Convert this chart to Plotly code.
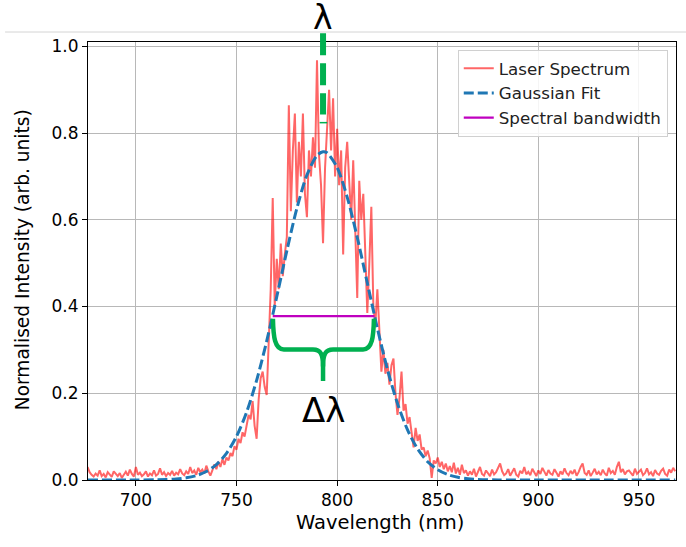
import plotly.graph_objects as go

# ---------------- data ----------------
wavelength_nm = list(range(676, 969))  # sampling grid, 1 nm

laser_intensity = [
    0.030, 0.018, 0.012, 0.008, 0.015, 0.010, 0.022, 0.009, 0.014, 0.006,   # 676-685
    0.018, 0.011, 0.007, 0.020, 0.013, 0.009, 0.016, 0.005, 0.012, 0.019,   # 686-695
    0.010, 0.024, 0.014, 0.008, 0.030, 0.012, 0.017, 0.009, 0.013, 0.020,   # 696-705
    0.008, 0.015, 0.011, 0.022, 0.010, 0.014, 0.027, 0.012, 0.018, 0.009,   # 706-715
    0.016, 0.012, 0.021, 0.010, 0.017, 0.013, 0.025, 0.015, 0.011, 0.020,   # 716-725
    0.014, 0.030, 0.016, 0.022, 0.012, 0.028, 0.018, 0.024, 0.015, 0.033,   # 726-735
    0.020, 0.010, 0.022, 0.036, 0.025, 0.042, 0.030, 0.048, 0.035, 0.052,   # 736-745
    0.045, 0.062, 0.055, 0.078, 0.070, 0.095, 0.085, 0.110, 0.100, 0.128,   # 746-755
    0.150, 0.140, 0.182, 0.125, 0.095, 0.185, 0.235, 0.250, 0.215, 0.196,   # 756-765
    0.300, 0.440, 0.650, 0.400, 0.510, 0.440, 0.545, 0.470, 0.520, 0.560,   # 766-775
    0.864, 0.620, 0.760, 0.845, 0.640, 0.780, 0.700, 0.845, 0.660, 0.606,   # 776-785
    0.760, 0.700, 0.790, 0.720, 0.968, 0.750, 0.680, 0.546, 0.720, 0.800,   # 786-795
    0.900, 0.760, 0.880, 0.700, 0.810, 0.680, 0.760, 0.520, 0.720, 0.780,   # 796-805
    0.700, 0.600, 0.737, 0.560, 0.420, 0.690, 0.600, 0.660, 0.520, 0.385,   # 806-815
    0.500, 0.630, 0.400, 0.360, 0.440, 0.330, 0.250, 0.300, 0.245, 0.270,   # 816-825
    0.220, 0.265, 0.280, 0.200, 0.150, 0.190, 0.250, 0.160, 0.175, 0.130,   # 826-835
    0.145, 0.110, 0.075, 0.120, 0.090, 0.105, 0.070, 0.075, 0.055, 0.068,   # 836-845
    0.050, 0.005, 0.045, 0.038, 0.052, 0.030, 0.042, 0.025, 0.038, 0.020,   # 846-855
    0.032, 0.018, 0.040, 0.015, 0.028, 0.012, 0.035, 0.016, 0.022, 0.010,   # 856-865
    0.020, 0.012, 0.026, 0.008, 0.018, 0.030, 0.014, 0.010, 0.022, 0.016,   # 866-875
    0.009, 0.024, 0.013, 0.018, 0.028, 0.038, 0.020, 0.011, 0.015, 0.025,   # 876-885
    0.010, 0.017, 0.027, 0.012, 0.008, 0.021, 0.015, 0.030, 0.013, 0.019,   # 886-895
    0.011, 0.026, 0.016, 0.009, 0.022, 0.014, 0.028, 0.018, 0.010, 0.023,   # 896-905
    0.015, 0.012, 0.025, 0.017, 0.008, 0.020, 0.013, 0.027, 0.016, 0.011,   # 906-915
    0.021, 0.014, 0.024, 0.010, 0.018, 0.030, 0.038, 0.016, 0.012, 0.022,   # 916-925
    0.009, 0.017, 0.026, 0.013, 0.019, 0.011, 0.024, 0.015, 0.010, 0.028,   # 926-935
    0.016, 0.021, 0.012, 0.030, 0.042, 0.018, 0.025, 0.013, 0.020, 0.022,   # 936-945
    0.017, 0.010, 0.026, 0.014, 0.019, 0.024, 0.011, 0.016, 0.027, 0.013,   # 946-955
    0.018, 0.009, 0.023, 0.015, 0.012, 0.021, 0.026, 0.014, 0.010, 0.024,   # 956-965
    0.017, 0.028, 0.020,                                                    # 966-968
]

fit_wavelength_nm = [676, 700, 710, 715, 720, 725, 730, 735, 740, 745, 750, 755,
                     760, 765, 770, 775, 780, 785, 790, 793, 795, 800, 805, 810,
                     815, 820, 825, 830, 835, 840, 845, 850, 855, 860, 865, 870,
                     880, 900, 968]
fit_intensity = [0.0, 0.0, 0.0004, 0.0010, 0.0023, 0.0050, 0.0101, 0.0195, 0.0355,
                 0.0615, 0.1006, 0.1562, 0.2298, 0.3201, 0.4226, 0.5285, 0.6264,
                 0.7034, 0.7484, 0.7570, 0.7545, 0.7207, 0.6523, 0.5594, 0.4544,
                 0.3499, 0.2552, 0.1764, 0.1155, 0.0717, 0.0421, 0.0235, 0.0124,
                 0.0062, 0.0029, 0.0013, 0.0002, 0.0, 0.0]

bandwidth_wavelength_nm = [768.0, 818.6]
bandwidth_intensity = [0.378, 0.378]

centre_wavelength_nm = 793.0
x_ticks = [700, 750, 800, 850, 900, 950]
y_ticks = [0.0, 0.2, 0.4, 0.6, 0.8, 1.0]

X_RANGE = [676.2, 968.4]
Y_MAX = 1.01

GREEN = "rgb(0,176,80)"
FONT = "DejaVu Sans"

fig = go.Figure()
fig.add_trace(go.Scatter(x=wavelength_nm, y=laser_intensity, mode="lines",
                         name="Laser Spectrum",
                         line=dict(color="rgba(255,0,0,0.6)", width=2)))
fig.add_trace(go.Scatter(x=fit_wavelength_nm, y=fit_intensity, mode="lines",
                         name="Gaussian Fit",
                         line=dict(color="#1f77b4", width=3, dash="10px,4px",
                                   shape="spline", smoothing=0.8)))
fig.add_trace(go.Scatter(x=bandwidth_wavelength_nm, y=bandwidth_intensity,
                         mode="lines", name="Spectral bandwidth",
                         line=dict(color="#bf00bf", width=2.2)))

def paper_y(v):
    return v / Y_MAX

shapes = [
    # thin grey separator line above the figure
    dict(type="line", xref="paper", yref="paper", x0=-0.141, x1=1.02,
         y0=1.0228, y1=1.0228, line=dict(color="#d4d4d4", width=1)),
    # dashed green centre wavelength marker
    dict(type="line", xref="x", yref="paper",
         x0=centre_wavelength_nm, x1=centre_wavelength_nm,
         y0=paper_y(1.03), y1=paper_y(0.843),
         line=dict(color=GREEN, width=6, dash="22px,8px")),
    dict(type="line", xref="x", yref="y", x0=791.3, x1=795.1, y0=0.824, y1=0.824,
         line=dict(color=GREEN, width=1.5)),
    # brace under the bandwidth line
    dict(type="path", xref="x", yref="y",
         path=("M 768.1,0.372 C 768.3,0.33 769.0,0.301 773.5,0.301 "
               "L 788.0,0.301 C 791.8,0.301 793.0,0.29 793.0,0.262 L 793.0,0.228"),
         line=dict(color=GREEN, width=4.5)),
    dict(type="path", xref="x", yref="y",
         path=("M 818.3,0.372 C 818.1,0.33 817.4,0.301 812.9,0.301 "
               "L 798.0,0.301 C 794.2,0.301 793.0,0.29 793.0,0.262"),
         line=dict(color=GREEN, width=4.5)),
]

annotations = [
    dict(x=centre_wavelength_nm, y=1.057, xref="x", yref="paper",
         text="λ", showarrow=False, font=dict(family=FONT, size=33, color="black"),
         xanchor="center", yanchor="middle"),
    dict(x=centre_wavelength_nm, y=0.161, xref="x", yref="y",
         text="Δλ", showarrow=False, font=dict(family=FONT, size=34, color="black"),
         xanchor="center", yanchor="middle"),
    # axis titles placed explicitly
    dict(x=0.497, y=-0.098, xref="paper", yref="paper", text="Wavelength (nm)",
         showarrow=False, font=dict(family=FONT, size=19.5, color="black"),
         xanchor="center", yanchor="middle"),
    dict(x=-0.112, y=0.502, xref="paper", yref="paper",
         text="Normalised Intensity (arb. units)", textangle=-90,
         showarrow=False, font=dict(family=FONT, size=18.6, color="black"),
         xanchor="center", yanchor="middle"),
]

fig.update_layout(
    width=686, height=547,
    margin=dict(l=88, r=10, t=42, b=67, autoexpand=False),
    paper_bgcolor="white", plot_bgcolor="white",
    font=dict(family=FONT, size=17, color="black"),
    shapes=shapes, annotations=annotations,
    showlegend=True,
    legend=dict(x=0.986, xanchor="right", y=0.982, yanchor="top",
                bgcolor="rgba(255,255,255,0.85)", bordercolor="#d0d0d0",
                borderwidth=1, font=dict(family=FONT, size=16.7, color="#222")),
)
fig.update_xaxes(range=X_RANGE, tickvals=x_ticks, ticks="outside", ticklen=5,
                 tickcolor="black", showline=True, mirror=True, linecolor="black",
                 linewidth=1, showgrid=True, gridcolor="#b8b8b8", gridwidth=1,
                 zeroline=False, tickfont=dict(size=17), automargin=False)
fig.update_yaxes(range=[0, Y_MAX], tickvals=y_ticks, tickformat=".1f",
                 ticks="outside", ticklen=5, tickcolor="black", showline=True,
                 mirror=True, linecolor="black", linewidth=1, showgrid=True,
                 gridcolor="#b8b8b8", gridwidth=1, zeroline=False,
                 tickfont=dict(size=17), automargin=False)

fig.write_html("out.html", config={"displayModeBar": False},
               post_script="document.body.style.margin='0';document.body.style.padding='0';")
